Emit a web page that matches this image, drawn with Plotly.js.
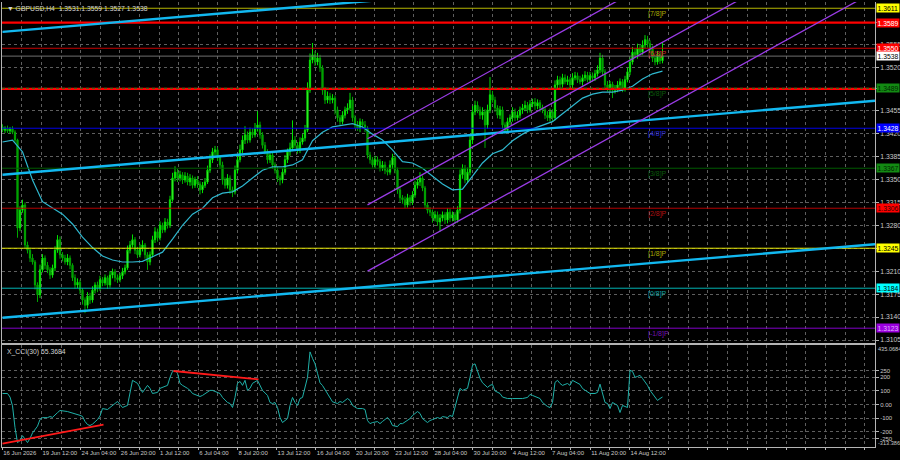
<!DOCTYPE html>
<html><head><meta charset="utf-8">
<script src="https://cdn.plot.ly/plotly-3.0.1.min.js"></script>
<style>html,body{margin:0;padding:0;background:#000;}#chart{width:900px;height:460px;}</style>
</head><body><div id="chart"></div>
<script>
// ---- data ----
const closes = [
1.3425,1.3428,1.3424,1.3427,1.3422,1.3410,1.3276,1.3303,1.3311,1.3250,
1.3242,1.3230,1.3224,1.3189,1.3174,1.3212,1.3230,1.3219,1.3212,1.3204,
1.3215,1.3242,1.3258,1.3235,1.3230,1.3224,1.3230,1.3219,1.3200,1.3189,
1.3193,1.3181,1.3166,1.3158,1.3172,1.3166,1.3181,1.3189,1.3184,1.3197,
1.3192,1.3200,1.3189,1.3204,1.3209,1.3200,1.3197,1.3203,1.3209,1.3215,
1.3242,1.3250,1.3258,1.3242,1.3235,1.3245,1.3250,1.3235,1.3224,1.3235,
1.3258,1.3270,1.3261,1.3280,1.3273,1.3285,1.3280,1.3319,1.3352,1.3361,
1.3352,1.3357,1.3349,1.3355,1.3346,1.3352,1.3341,1.3349,1.3343,1.3334,
1.3341,1.3346,1.3364,1.3380,1.3392,1.3395,1.3383,1.3372,1.3349,1.3341,
1.3352,1.3334,1.3331,1.3364,1.3380,1.3395,1.3410,1.3418,1.3410,1.3422,
1.3418,1.3428,1.3433,1.3418,1.3402,1.3392,1.3380,1.3387,1.3372,1.3364,
1.3352,1.3349,1.3361,1.3380,1.3392,1.3398,1.3410,1.3402,1.3395,1.3407,
1.3413,1.3425,1.3486,1.3532,1.3540,1.3529,1.3535,1.3520,1.3486,1.3471,
1.3477,1.3471,1.3474,1.3456,1.3444,1.3438,1.3448,1.3456,1.3459,1.3471,
1.3444,1.3433,1.3428,1.3438,1.3433,1.3428,1.3387,1.3380,1.3372,1.3380,
1.3377,1.3367,1.3372,1.3364,1.3361,1.3372,1.3383,1.3364,1.3334,1.3322,
1.3319,1.3311,1.3322,1.3316,1.3326,1.3341,1.3346,1.3352,1.3337,1.3311,
1.3303,1.3300,1.3291,1.3296,1.3285,1.3291,1.3296,1.3288,1.3300,1.3291,
1.3296,1.3288,1.3303,1.3357,1.3367,1.3349,1.3361,1.3410,1.3453,1.3463,
1.3456,1.3448,1.3453,1.3433,1.3456,1.3479,1.3471,1.3459,1.3448,1.3456,
1.3433,1.3425,1.3438,1.3444,1.3453,1.3444,1.3448,1.3456,1.3459,1.3463,
1.3456,1.3465,1.3468,1.3462,1.3467,1.3459,1.3456,1.3448,1.3444,1.3453,
1.3444,1.3494,1.3502,1.3495,1.3505,1.3499,1.3502,1.3494,1.3505,1.3508,
1.3502,1.3499,1.3505,1.3509,1.3502,1.3508,1.3505,1.3511,1.3517,1.3535,
1.3514,1.3494,1.3489,1.3495,1.3486,1.3489,1.3494,1.3499,1.3489,1.3502,
1.3514,1.3529,1.3544,1.3540,1.3550,1.3544,1.3555,1.3563,1.3557,1.3550,
1.3535,1.3529,1.3540,1.3531,1.3538];
const firstOpen = 1.3430;
// wick lengths in pips
const upWick = [
4,3,4,3,4,3,2,6,8,4, 5,4,6,3,4,8,6,4,5,4, 5,6,7,5,4,5,6,4,3,5, 6,4,3,4,6,5,6,4,5,6,
4,5,3,6,5,4,5,4,6,5, 7,6,8,4,5,6,7,3,4,5, 6,7,5,6,4,6,5,6,8,9, 5,6,4,6,5,6,4,5,6,4,
5,6,7,8,6,6,4,3,5,4, 6,4,5,7,6,8,7,13,5,7, 6,8,21,5,4,5,4,6,5,4, 5,4,6,7,5,8,30,6,5,7,
6,8,12,10,18,6,8,5,4,5, 7,5,6,4,5,4,6,5,7,11, 5,4,6,5,4,6,3,5,4,6, 5,4,6,5,4,7,6,3,4,5,
4,5,6,4,6,7,5,9,4,3, 4,5,4,6,5,6,5,4,6,5, 5,4,6,8,6,5,7,8,9,7, 6,5,7,4,8,27,6,5,4,6,
5,4,6,5,7,5,6,5,6,7, 5,6,5,6,5,4,5,4,6,5, 4,7,6,5,6,5,6,4,7,6, 5,6,5,6,5,6,5,6,7,8,
5,4,6,5,4,5,6,5,4,6, 6,7,8,6,7,6,7,7,6,5, 4,5,6,5,21];
const downWick = [
3,4,3,4,3,4,15,5,4,6, 5,6,4,7,11,5,4,6,5,6, 4,5,4,6,5,4,5,6,5,6, 5,6,7,12,5,6,4,5,6,4,
5,4,6,4,5,6,5,4,5,4, 3,5,4,6,5,4,5,6,12,5, 4,5,6,4,5,4,5,4,3,5, 6,5,6,4,5,6,5,4,6,7,
5,4,3,4,5,6,5,6,7,5, 5,6,8,4,5,4,5,6,5,4, 5,4,5,6,5,4,6,5,6,5, 6,8,5,4,5,6,5,4,6,5,
4,5,3,4,5,6,5,6,7,6, 5,6,5,7,6,5,4,5,6,4, 6,5,4,6,5,6,5,6,4,5, 6,5,4,6,5,4,6,5,6,7,
6,5,4,6,5,4,5,6,5,6, 5,6,7,5,6,15,5,6,5,6, 5,6,4,5,6,5,4,5,6,5, 5,6,7,35,6,5,4,6,5,6,
6,5,4,5,6,5,4,5,6,5, 5,4,5,6,5,6,5,6,5,6, 6,4,5,6,5,4,5,6,5,4, 5,4,6,5,4,5,6,5,4,5,
6,7,5,6,12,5,6,5,6,5, 4,5,4,5,6,5,4,5,6,7, 6,5,4,5,4];
// moving average, one value every 4 bars
const maVals = [1.3407,1.3410,1.3392,1.3349,1.3316,1.3306,1.3297,1.3282,1.3262,1.3246,
1.3233,1.3227,1.3224,1.3224,1.3225,1.3232,1.3239,1.3259,1.3280,1.3297,
1.3306,1.3322,1.3329,1.3331,1.3340,1.3352,1.3364,1.3369,1.3369,1.3372,
1.3380,1.3409,1.3422,1.3430,1.3433,1.3435,1.3430,1.3419,1.3410,1.3395,
1.3377,1.3375,1.3367,1.3355,1.3343,1.3334,1.3335,1.3355,1.3375,1.3389,
1.3395,1.3409,1.3419,1.3427,1.3433,1.3438,1.3450,1.3462,1.3474,1.3480,
1.3483,1.3483,1.3486,1.3492,1.3503,1.3511,1.3515];
const cciBars = [0,2,3,4,5,6,7,8,9,10, 11,12,14,15,16,18,19,20,22,23, 26,28,31,32,33,34,35,36,38,39,
40,42,43,44,46,47,48,50,51,52, 54,55,56,58,59,60,62,63,64,66, 67,68,69,70,71,72,74,75,76,78,
79,80,82,83,84,86,87,88,90,91, 92,93,94,95,96,97,98,99,100,102, 103,104,106,107,108,109,110,111,112,114,
115,116,117,118,119,120,122,123,124,125, 126,127,128,130,131,132,134,135,136,138, 139,140,142,144,145,146,147,148,150,151,
152,154,155,156,158,159,160,162,163,164, 166,167,168,170,171,172,174,175,176,178, 179,180,181,182,183,184,186,187,188,189,
190,191,192,194,195,196,197,199,200,202, 204,208,210,211,212,214,215,216,218,219, 220,221,222,223,224,226,227,228,230,231,
232,234,235,237,238,239,240,241,242,243, 244,246,247,248,250,251,252,253,254,255, 256,258,259,260,262,263,264];
const cciVals = [81,81,55,-10,-170,-281,-267,-230,-255,-281, -250,-210,-160,-110,-97,-97,-89,-95,-60,-44, -52,-62,-80,-88,-125,-148,-155,-145,-111,-85,
-30,-37,-22,-7,22,0,-22,-7,89,178, 156,119,89,141,119,81,89,119,126,141, 200,244,252,230,156,141,119,104,81,67,
59,67,89,104,104,89,81,52,15,7, -22,52,156,170,141,178,104,119,156,178, 141,104,67,15,7,15,-22,-96,-133,-104,
-7,52,15,-7,44,52,200,388,340,300, 230,160,140,81,52,20,7,22,15,44, 30,-7,-30,-30,-37,-118,-141,-133,-126,-141,
-125,-96,-118,-155,-163,-141,-141,-118,-104,-81, -52,-66,-104,-133,-118,-111,-96,-104,-89,-96, -81,-89,-22,52,119,104,119,200,289,300,
237,193,160,126,141,148,100,81,55,44, 44,44,52,74,67,52,44,15,-15,-22, 15,163,178,155,141,155,141,178,155,148,
118,89,81,81,89,150,81,15,7,-30, 15,-7,-59,-7,-22,252,244,200,207,215, 192,141,104,81,30,44,55.3684];
const timeLabels = ['16 Jun 2026','19 Jun 12:00','24 Jun 04:00','26 Jun 20:00','1 Jul 12:00','6 Jul 04:00',
'8 Jul 20:00','13 Jul 12:00','16 Jul 04:00','20 Jul 20:00','23 Jul 12:00','28 Jul 04:00','30 Jul 20:00',
'4 Aug 12:00','7 Aug 04:00','11 Aug 20:00','14 Aug 12:00'];
const priceTicks = [1.3105,1.3140,1.3175,1.3210,1.3245,1.3280,1.3315,1.3350,1.3385,1.3420,1.3455,1.3488,1.3520,1.3555,1.3590];
const priceTickText = ['1.3105','1.3140','1.3175','1.3210','','1.3280','1.3315','1.3350','1.3385','1.3420','1.3455','','1.3520','1.3555',''];
const cciTicks = [250, 200, 100, 0, -100, -200, -250];
const cciTickText = ['250','200','100','0.00','-100','-200','-250'];
const cciMax = 435.0684, cciMin = -313.386;
const murrayPrices = [1.3611,1.3550,1.3489,1.3428,1.3367,1.3306,1.3245,1.3184,1.3123];
const murrayNames = ['[7/8]P','[6/8]P','[5/8]P','[4/8]P','[3/8]P','[2/8]P','[1/8]P','[0/8]P','[-1/8]P'];
const resistancePrices = [1.3589, 1.3488];
const lastPrice = 1.3538;
const titleText = '\u25BC GBPUSD,H4  1.3531 1.3559 1.3527 1.3538';
const cciTitle = 'X_CCI(30) 55.3684';
// trend lines: [startBar, startPrice, endBar, endPrice]
const cyanLines = [[0,1.3575,349,1.3687],[0,1.3357,349,1.3470],[0,1.3139,349,1.3251]];
const channelLines = [[146,1.3412,349,1.3839],[146,1.3311,349,1.3738],[146,1.3210,349,1.3637]];
const cciDivergence = [[0,-289,40.4,-148],[68.4,247,102.4,185]];

// ---- styles ----
const murrayLineColors = ['#b4b400','#c80000','#0a6a0a','#0000e6','#005c00','#b40000','#e6e600','#00b4b4','#8000c8'];
const murrayTextColors = ['#a8a800','#d83030','#0a5a0a','#2828d8','#0a5a0a','#b01010','#a8a800','#10a0a0','#7010b0'];
const murrayBox = ['#ffff00','#ff0000','#138a13','#0000ff','#138a13','#ff0000','#ffff00','#00ffff','#9b00e0'];
const murrayBoxText = ['#000','#fff','#002800','#fff','#002800','#300000','#000','#000','#e0b0ff'];
const FONT = 'Liberation Sans, Arial, sans-serif';
const GRID = '#5e5e5e';
const FRAME = '#b4b4b4';
const TXT = '#c8c8c8';

// ---- build candles ----
const n = closes.length;
const bars = [], opens = [], highs = [], lows = [];
for (let i = 0; i < n; i++) {
  const o = i === 0 ? firstOpen : closes[i-1];
  const c = closes[i];
  bars.push(i); opens.push(o);
  highs.push(Math.max(o,c) + (upWick[i] || 0) * 1e-4);
  lows.push(Math.min(o,c) - (downWick[i] || 0) * 1e-4);
}
const maBars = maVals.map((v,k) => k*4);

const traces = [
  {type:'candlestick', x:bars, open:opens, high:highs, low:lows, close:closes, xaxis:'x', yaxis:'y',
   increasing:{line:{color:'#00e000', width:1}, fillcolor:'#7dff5a'},
   decreasing:{line:{color:'#00a800', width:1}, fillcolor:'#009a00'},
   whiskerwidth:0, hoverinfo:'skip'},
  {type:'scatter', mode:'lines', x:maBars, y:maVals, xaxis:'x', yaxis:'y',
   line:{color:'#2fb8cf', width:1.2}, hoverinfo:'skip'},
  {type:'scatter', mode:'lines', x:cciBars, y:cciVals, xaxis:'x2', yaxis:'y2',
   line:{color:'#1fb0a8', width:1}, hoverinfo:'skip'}
];

// ---- x grid/tick positions (bar units) ----
const gridTicks = [], gridText = [];
for (let k = 0; k <= 44; k++) {
  gridTicks.push(k*7.84 - 0.12);
  gridText.push(k % 2 === 0 && k/2 < timeLabels.length ? timeLabels[k/2] : '');
}

const shapes = [];
murrayPrices.forEach((p,k) => {
  if (k === 2) return;
  shapes.push({type:'line', xref:'paper', x0:0, x1:1, yref:'y', y0:p, y1:p, line:{color:murrayLineColors[k], width:1}});
});
resistancePrices.forEach(p => shapes.push({type:'line', xref:'paper', x0:0, x1:1, yref:'y', y0:p, y1:p, line:{color:'#ff0000', width:2.2}}));
shapes.push({type:'line', xref:'paper', x0:0, x1:1, yref:'y', y0:murrayPrices[2], y1:murrayPrices[2], line:{color:'#1a7a1a', width:1, dash:'dot'}});
shapes.push({type:'line', xref:'paper', x0:0, x1:1, yref:'y', y0:lastPrice, y1:lastPrice, line:{color:'#707070', width:1}});
cyanLines.forEach(l => shapes.push({type:'line', xref:'x', yref:'y', x0:l[0], y0:l[1], x1:l[2], y1:l[3], line:{color:'#12b8f0', width:2.4}}));
channelLines.forEach(l => shapes.push({type:'line', xref:'x', yref:'y', x0:l[0], y0:l[1], x1:l[2], y1:l[3], line:{color:'#9a3ce6', width:1.3}}));
cciDivergence.forEach(l => shapes.push({type:'line', xref:'x2', yref:'y2', x0:l[0], y0:l[1], x1:l[2], y1:l[3], line:{color:'#ff1a1a', width:1.8}}));

const annotations = [];
annotations.push({xref:'paper', yref:'paper', x:0.004, y:1, xanchor:'left', yanchor:'top', yshift:-1, text:titleText, showarrow:false, font:{family:FONT, size:6.8, color:'#d2d2d2'}});
annotations.push({xref:'paper', yref:'paper', x:0.004, y:0.2281, xanchor:'left', yanchor:'top', yshift:-1, text:cciTitle, showarrow:false, font:{family:FONT, size:6.8, color:'#d2d2d2'}});
murrayPrices.forEach((p,k) => {
  annotations.push({xref:'x', yref:'y', x:257.4, y:p, xanchor:'left', yanchor:'top', yshift:0, text:murrayNames[k], showarrow:false, font:{family:FONT, size:7, color:murrayTextColors[k]}});
});
function box(p, bg, fg) {
  annotations.push({xref:'paper', yref:'y', x:1, y:p, xanchor:'left', yanchor:'middle', xshift:1, text:p.toFixed(4), showarrow:false,
    bgcolor:bg, borderpad:0.5, font:{family:FONT, size:6.8, color:fg}});
}
murrayPrices.forEach((p,k) => box(p, murrayBox[k], murrayBoxText[k]));
box(resistancePrices[0], '#ff0000', '#fff');
box(lastPrice, '#ffffff', '#000');
// CCI window extremes on the right scale
annotations.push({xref:'paper', yref:'y2', x:1, y:cciMax, xanchor:'left', yanchor:'top', xshift:1, yshift:1, text:String(cciMax), showarrow:false, font:{family:FONT, size:5.6, color:TXT}});
annotations.push({xref:'paper', yref:'y2', x:1, y:cciMin, xanchor:'left', yanchor:'bottom', xshift:1, yshift:-1, text:String(cciMin), showarrow:false, font:{family:FONT, size:5.6, color:TXT}});

const layout = {
  width:900, height:460, paper_bgcolor:'#000', plot_bgcolor:'#000',
  margin:{l:2, r:25, t:2, b:13}, showlegend:false, hovermode:false,
  font:{family:FONT, size:7, color:TXT},
  xaxis:{domain:[0,1], anchor:'y', range:[-0.2,349], showticklabels:false, tickvals:gridTicks, ticks:'',
    showgrid:true, gridcolor:GRID, griddash:'dot', gridwidth:1, zeroline:false, showline:true, linecolor:FRAME, linewidth:1,
    rangeslider:{visible:false}, fixedrange:true},
  yaxis:{domain:[0.2337,1], anchor:'x', side:'right', range:[1.310042,1.362055], tickvals:priceTicks, ticktext:priceTickText,
    tickfont:{family:FONT, size:6.8, color:TXT}, ticks:'outside', ticklen:3, tickcolor:FRAME,
    showgrid:true, gridcolor:GRID, griddash:'dot', zeroline:false, showline:true, mirror:true, linecolor:FRAME, fixedrange:true},
  xaxis2:{domain:[0,1], anchor:'y2', range:[-0.2,349], tickvals:gridTicks, ticktext:gridText, tickangle:0,
    ticklabelposition:'outside right', tickfont:{family:FONT, size:6, color:TXT}, ticks:'outside', ticklen:2, tickcolor:FRAME,
    showgrid:true, gridcolor:GRID, griddash:'dot', zeroline:false, showline:true, mirror:true, linecolor:FRAME, fixedrange:true},
  yaxis2:{domain:[0,0.2281], anchor:'x2', side:'right', range:[cciMin,cciMax], tickvals:cciTicks, ticktext:cciTickText,
    tickfont:{family:FONT, size:6, color:TXT}, ticks:'outside', ticklen:3, tickcolor:FRAME,
    showgrid:true, gridcolor:GRID, griddash:'dot', zeroline:false, showline:true, mirror:true, linecolor:FRAME, fixedrange:true},
  shapes:shapes, annotations:annotations
};
Plotly.newPlot('chart', traces, layout, {staticPlot:true, displayModeBar:false});
</script></body></html>
